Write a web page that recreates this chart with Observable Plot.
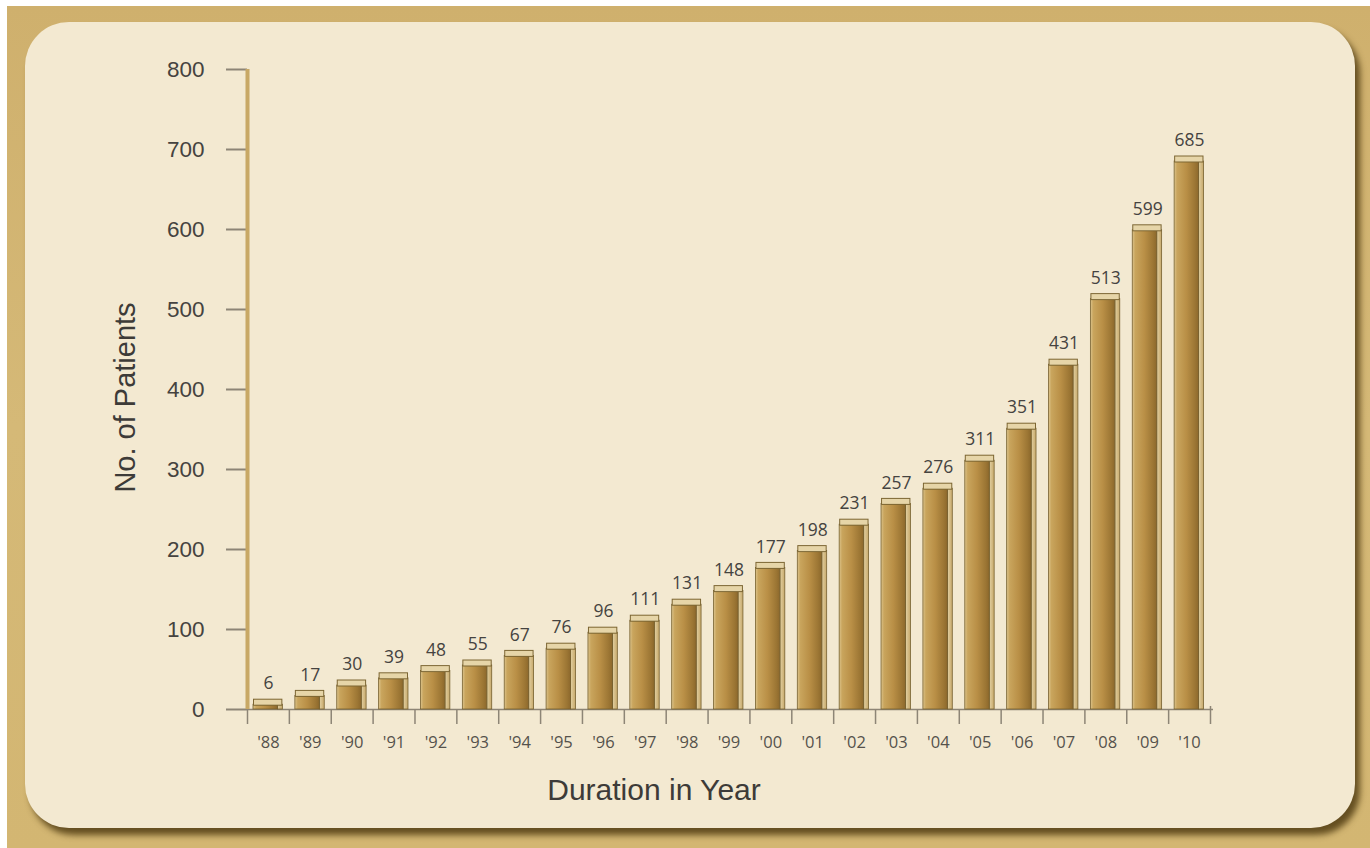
<!DOCTYPE html>
<html>
<head>
<meta charset="utf-8">
<script src="https://cdn.jsdelivr.net/npm/d3@7"></script>
<script src="https://cdn.jsdelivr.net/npm/@observablehq/plot@0.6"></script>
<style>
  html, body { margin: 0; padding: 0; background: #ffffff; }
  #page { position: relative; width: 1370px; height: 848px; overflow: hidden; background: #ffffff; }
  #frame { position: absolute; left: 7px; top: 6px; right: 0; bottom: 0;
           background: linear-gradient(180deg, #cfb06d 0%, #d5b977 50%, #d3b672 100%); }
  #panel { position: absolute; left: 25px; top: 22px; width: 1330px; height: 806px;
           border-radius: 44px; background: #f3e9d1;
           box-shadow: 5px 7px 6px rgba(72, 52, 12, 0.8); }
  #chart { position: absolute; left: 0; top: 0; }
</style>
</head>
<body>
<div id="page">
  <div id="frame"></div>
  <div id="panel"></div>
  <div id="chart"></div>
</div>
<script>
// Cumulative number of patients per year
const years = ["'88", "'89", "'90", "'91", "'92", "'93", "'94", "'95", "'96", "'97", "'98", "'99",
               "'00", "'01", "'02", "'03", "'04", "'05", "'06", "'07", "'08", "'09", "'10"];
const patients = [6, 17, 30, 39, 48, 55, 67, 76, 96, 111, 131, 148,
                  177, 198, 231, 257, 276, 311, 351, 431, 513, 599, 685];
const yTicks = [0, 100, 200, 300, 400, 500, 600, 700, 800];

const xTitle = "Duration in Year";
const yTitle = "No. of Patients";

const data = years.map((year, i) => ({year, patients: patients[i]}));

const W = 1370, H = 848;
const M = {left: 247, right: 160, top: 69, bottom: 139};
const step = (W - M.left - M.right) / years.length;

const axisGray = "#8d8576";
const textColor = "#454340";

const chart = Plot.plot({
  width: W,
  height: H,
  marginLeft: M.left,
  marginRight: M.right,
  marginTop: M.top,
  marginBottom: M.bottom,
  style: {background: "transparent", overflow: "visible", fontFamily: "'Liberation Sans', Arial, sans-serif"},
  x: {type: "band", domain: years, padding: 0, round: false},
  y: {domain: [0, 800]},
  marks: [
    // baseline
    Plot.ruleY([0], {stroke: axisGray, strokeWidth: 1.5, insetRight: -3}),
    // y axis: ticks and labels
    Plot.axisY(yTicks, {tickSize: 21, tickPadding: 22, stroke: axisGray, strokeWidth: 2,
                        fill: textColor, fontSize: 22.5, label: null}),
    // tan vertical axis bar
    Plot.tickX([years[0]], {dx: -step / 2, stroke: "#c8a865", strokeWidth: 4}),
    // category boundary ticks below the baseline
    Plot.tickX(years, {dx: -step / 2, stroke: axisGray, strokeWidth: 1.5,
                       insetTop: H - M.top - M.bottom, insetBottom: -15}),
    Plot.tickX([years[years.length - 1]], {dx: step / 2, stroke: axisGray, strokeWidth: 1.5,
                       insetTop: H - M.top - M.bottom - 3, insetBottom: -15}),
    // year labels
    Plot.axisX({tickSize: 0, tickPadding: 27, fill: "#55524c", fontSize: 16.5, label: null,
                fontFamily: "'Open Sans', sans-serif"}),
    // bar side face
    Plot.barY(data, {x: "year", y: "patients", fill: "url(#barSide)", stroke: "#76602f",
                     strokeWidth: 0.8, insetLeft: 30.5, insetRight: 6.5}),
    // bar front face
    Plot.barY(data, {x: "year", y: "patients", fill: "url(#barFace)", stroke: "#76602f",
                     strokeWidth: 0.8, insetLeft: 6, insetRight: 11.4}),
    // bar top caps
    Plot.tickY(data, {x: "year", y: "patients", stroke: "#7c6633", strokeWidth: 7,
                      dy: -2.5, insetLeft: 6, insetRight: 6.5}),
    Plot.tickY(data, {x: "year", y: "patients", stroke: "#e6d5a8", strokeWidth: 5,
                      dy: -2.5, insetLeft: 7, insetRight: 7.5}),
    // value labels
    Plot.text(data, {x: "year", y: "patients", text: d => String(d.patients), dy: -21,
                     fill: textColor, fontSize: 17.5, fontFamily: "'Open Sans', sans-serif"}),
    // axis titles
    Plot.text([xTitle], {text: d => d, frameAnchor: "bottom", textAnchor: "middle", lineAnchor: "middle",
                         dx: -75, dy: 81, fontSize: 30, fill: "#3d3b38"}),
    Plot.text([yTitle], {text: d => d, frameAnchor: "left", textAnchor: "middle", lineAnchor: "middle",
                         rotate: -90, dx: -122, dy: 8, fontSize: 29, fill: "#3d3b38"})
  ]
});

// gradients used by the bar faces
d3.select(chart).insert("defs", ":first-child").html(`
  <linearGradient id="barFace" x1="0" x2="1" y1="0" y2="0">
    <stop offset="0" stop-color="#dcc48c"/>
    <stop offset="0.12" stop-color="#c9a55d"/>
    <stop offset="0.5" stop-color="#b98f46"/>
    <stop offset="0.85" stop-color="#9c7634"/>
    <stop offset="1" stop-color="#8c682c"/>
  </linearGradient>
  <linearGradient id="barSide" x1="0" x2="1" y1="0" y2="0">
    <stop offset="0" stop-color="#e2d0a2"/>
    <stop offset="1" stop-color="#c7a96b"/>
  </linearGradient>
`);

document.getElementById("chart").appendChild(chart);
</script>
</body>
</html>
